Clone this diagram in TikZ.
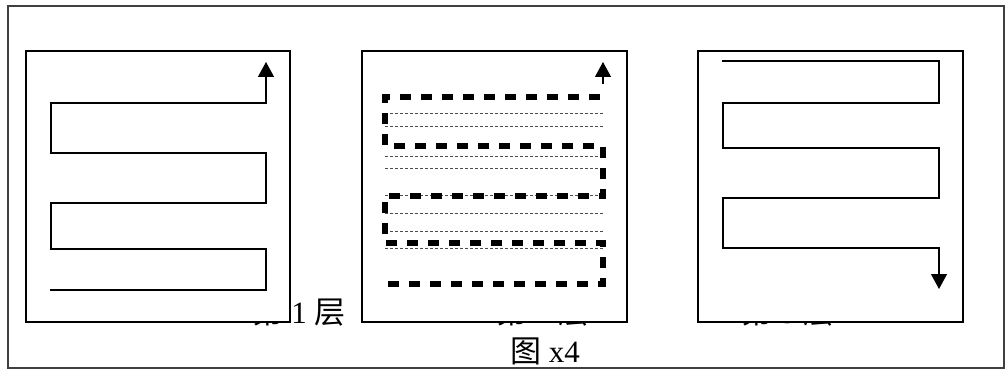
\documentclass[tikz,border=0pt]{standalone}
\usepackage{fontspec}
\setmainfont{Liberation Serif}
\newfontfamily\cjk{Noto Sans CJK SC}
\usetikzlibrary{arrows.meta}
\newcommand\lblsize{\fontsize{31pt}{34pt}\selectfont}
\begin{document}
\begin{tikzpicture}[x=1pt,y=-1pt,
  frame/.style={draw=black!75, line width=1.6pt},
  panel/.style={draw=black, fill=white, line width=1.6pt},
  route/.style={draw=black, line width=1.3pt},
  thickdash/.style={draw=black, line width=5.4pt, dash pattern=on 11pt off 10pt},
  thindash/.style={draw=black!70, line width=0.7pt, dash pattern=on 3pt off 2pt},
  tip/.style={-{Triangle[width=16pt,length=15pt]}},
  lbl/.style={inner sep=0pt}]
\useasboundingbox (0,0) rectangle (1006,374);
\draw[frame] (8,6) rectangle (1004,368);
% labels (partly hidden behind panels)
\node[lbl] (l1) at (299,312) {\lblsize{\cjk 第} 1 {\cjk 层}};
\node[lbl] (l2) at (543,312) {\lblsize{\cjk 第} 2 {\cjk 层}};
\node[lbl] (l3) at (788,312) {\lblsize{\cjk 第} 3 {\cjk 层}};
\node[lbl] (cap) at (545,351) {\lblsize{\cjk 图} x4};
% panels
\draw[panel] (26,51) rectangle (290,322);
\draw[panel] (362,51) rectangle (627,322);
\draw[panel] (698,51) rectangle (963,322);
% layer 1
\draw[route,tip] (50,290) -- (266,290) -- (266,249) -- (51,249) -- (51,203) -- (266,203)
  -- (266,153) -- (51,153) -- (51,103) -- (266,103) -- (266,62);
% layer 2
\foreach \yy in {113,126,156,168,195,213,231,248}
  \draw[thindash] (385,\yy) -- (603,\yy);
\draw[thickdash] (388,284) -- (603,284) -- (603,243) -- (385,243) -- (385,196) -- (603,196)
  -- (603,146) -- (385,146) -- (385,97) -- (603,97);
\draw[route,tip] (603,84) -- (603,62);
% layer 3
\draw[route,tip] (722,61) -- (939,61) -- (939,103) -- (723,103) -- (723,148) -- (939,148)
  -- (939,198) -- (723,198) -- (723,248) -- (939,248) -- (939,289);
\end{tikzpicture}
\end{document}
